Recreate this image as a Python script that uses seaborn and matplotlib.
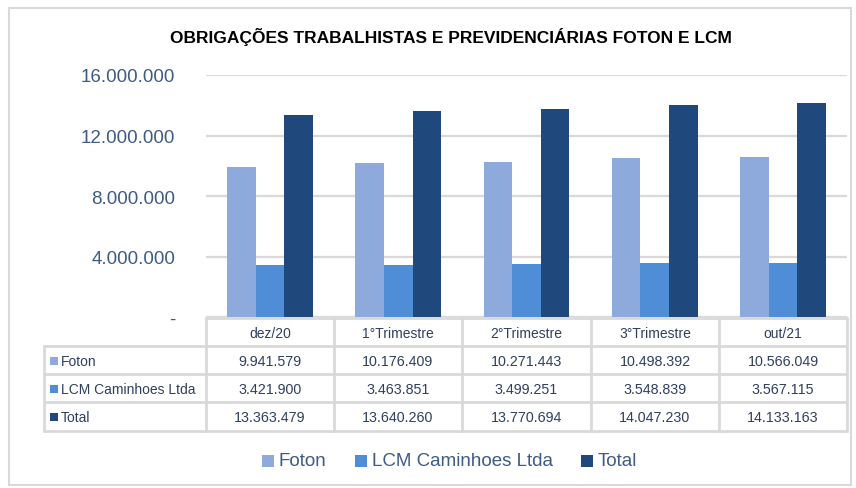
import matplotlib
matplotlib.use("Agg")
import matplotlib.pyplot as plt
import seaborn as sns
import pandas as pd
from matplotlib.patches import Rectangle
from matplotlib.lines import Line2D

categories = ["dez/20", "1°Trimestre", "2°Trimestre", "3°Trimestre", "out/21"]
foton = [9941579, 10176409, 10271443, 10498392, 10566049]
lcm = [3421900, 3463851, 3499251, 3548839, 3567115]
total = [13363479, 13640260, 13770694, 14047230, 14133163]
series_names = ["Foton", "LCM Caminhoes Ltda", "Total"]
colors = ["#8EA9DB", "#4F8ED6", "#1F497D"]
yticks = [0, 4000000, 8000000, 12000000, 16000000]
title = "OBRIGAÇÕES TRABALHISTAS E PREVIDENCIÁRIAS FOTON E LCM"

rows = []
for name, vals in zip(series_names, [foton, lcm, total]):
    for c, v in zip(categories, vals):
        rows.append({"cat": c, "serie": name, "valor": v})
df = pd.DataFrame(rows)

sns.set_theme(style="white")
plt.rcParams["font.family"] = ["Liberation Sans", "DejaVu Sans"]

W, H = 856, 489
fig = plt.figure(figsize=(W / 100, H / 100), dpi=100)
fig.patch.set_facecolor("white")

ax_l, ax_r, ax_t, ax_b = 206, 847, 76, 318
ax = fig.add_axes([ax_l / W, 1 - ax_b / H, (ax_r - ax_l) / W, (ax_b - ax_t) / H])
sns.barplot(data=df, x="cat", y="valor", hue="serie", order=categories,
            hue_order=series_names, palette=colors, width=0.67, ax=ax,
            saturation=1, edgecolor="none", linewidth=0)
ax.set_ylim(0, 16000000)
ax.set_xlim(-0.5, len(categories) - 0.5)
ax.set_yticks(yticks)
ax.set_yticklabels(["-"] + [f"{v:,}".replace(",", ".") for v in yticks[1:]],
                   color="#3E5B84", fontsize=13.5)
ax.tick_params(axis="y", length=0, pad=22)
ax.set_xticks([])
ax.set_xlabel("")
ax.set_ylabel("")
ax.yaxis.grid(True, color="#D9D9D9", linewidth=1.6)
ax.set_axisbelow(True)
for s in ax.spines.values():
    s.set_visible(False)
if ax.get_legend():
    ax.get_legend().remove()

# overlay for table, title, legend, border
ov = fig.add_axes([0, 0, 1, 1], zorder=5)
ov.set_xlim(0, W)
ov.set_ylim(H, 0)
ov.axis("off")
ov.patch.set_alpha(0)

ov.add_patch(Rectangle((9, 9), W - 14, H - 12, fill=False, edgecolor="#D9D9D9", linewidth=1.5))
ov.text(451, 37, title, ha="center", va="center", fontsize=12.5, fontweight="bold",
        color="#000000", family=["Liberation Sans Narrow", "Liberation Sans", "DejaVu Sans"])

col_x = [206, 334, 462, 591, 719, 847]
row_y = [319, 347, 375, 403, 432]
left_x = 44
lc = "#D9D9D9"
lw = 2
ov.add_line(Line2D([col_x[0], col_x[-1]], [row_y[0]] * 2, color=lc, lw=lw))
for y in row_y[1:]:
    ov.add_line(Line2D([left_x, col_x[-1]], [y, y], color=lc, lw=lw))
for x in col_x:
    ov.add_line(Line2D([x, x], [row_y[0], row_y[-1]], color=lc, lw=lw))
ov.add_line(Line2D([left_x, left_x], [row_y[1], row_y[-1]], color=lc, lw=lw))

tc = "#2F3F5F"
for i, c in enumerate(categories):
    ov.text((col_x[i] + col_x[i + 1]) / 2, (row_y[0] + row_y[1]) / 2 + 1, c,
            ha="center", va="center", fontsize=10, color=tc)
for r, (name, vals, col) in enumerate(zip(series_names, [foton, lcm, total], colors)):
    yc = (row_y[r + 1] + row_y[r + 2]) / 2 + 1
    ov.add_patch(Rectangle((50, yc - 4.5), 8, 8, color=col, lw=0))
    ov.text(61, yc, name, ha="left", va="center", fontsize=10, color=tc)
    for i, v in enumerate(vals):
        ov.text((col_x[i] + col_x[i + 1]) / 2, yc, f"{v:,}".replace(",", "."),
                ha="center", va="center", fontsize=10.3, color=tc)

leg_y = 462
leg_items = [(262, series_names[0]), (355, series_names[1]), (581, series_names[2])]
for (x, name), col in zip(leg_items, colors):
    ov.add_patch(Rectangle((x, leg_y - 6), 12, 12, color=col, lw=0))
    ov.text(x + 17, leg_y, name, ha="left", va="center", fontsize=13.5, color="#3E5B84")

fig.savefig("out.png", dpi=100, facecolor="white")
